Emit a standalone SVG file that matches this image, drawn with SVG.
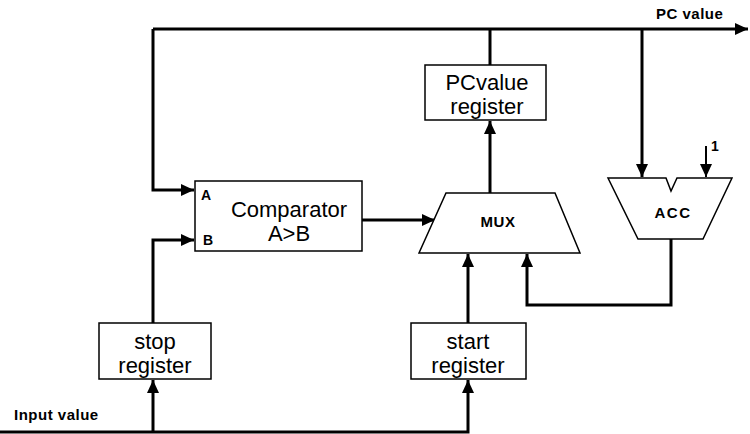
<svg xmlns="http://www.w3.org/2000/svg" width="750" height="434" viewBox="0 0 750 434">
<style>
.box{fill:#fff;stroke:#000;stroke-width:1.5}
.w{fill:none;stroke:#000;stroke-width:3}
.t{font-family:"Liberation Sans",Arial,sans-serif;fill:#000}
.big{font-size:22px;text-anchor:middle}
.sm{font-size:14px;font-weight:bold}
.lbl{font-size:15px;font-weight:bold;letter-spacing:0.5px}
</style>
<defs>
<marker id="ah" markerUnits="userSpaceOnUse" markerWidth="14" markerHeight="14" viewBox="0 0 14 14" refX="13" refY="7" orient="auto">
<path d="M0,1 L13,7 L0,13 Z" fill="#000"/>
</marker>
</defs>
<g id="connectors">
<path class="w" d="M153,29 H748" marker-end="url(#ah)"/>
<path class="w" d="M490,65 V29"/>
<path class="w" d="M153,29 V190 H194" marker-end="url(#ah)"/>
<path class="w" d="M642,29 V177" marker-end="url(#ah)"/>
<path class="w" d="M153,323 V240 H194" marker-end="url(#ah)"/>
<path class="w" d="M0,432 H468 V380" marker-end="url(#ah)"/>
<path class="w" d="M153,432 V380" marker-end="url(#ah)"/>
<path class="w" d="M468,323 V254" marker-end="url(#ah)"/>
<path class="w" d="M671,239 V305 H527 V254" marker-end="url(#ah)"/>
<path class="w" d="M362,220 H435" marker-end="url(#ah)"/>
<path class="w" d="M490,193 V121" marker-end="url(#ah)"/>
<path fill="none" stroke="#000" stroke-width="2" d="M706,146 V177" marker-end="url(#ah)"/>
</g>
<g id="pcvalue-register">
<rect class="box" x="425" y="65" width="121" height="55"/>
<text class="t big" x="487" y="90">PCvalue</text>
<text class="t big" x="487" y="114">register</text>
</g>
<g id="comparator">
<rect class="box" x="195" y="181" width="167" height="70"/>
<text class="t sm" x="201" y="200">A</text>
<text class="t sm" x="203" y="245">B</text>
<text class="t big" x="289" y="217">Comparator</text>
<text class="t big" x="289" y="241">A&gt;B</text>
</g>
<g id="mux">
<path class="box" d="M446,193 H555 L580,253 H419 Z"/>
<text class="t" x="498" y="227" font-size="15" font-weight="bold" letter-spacing="0.5" text-anchor="middle">MUX</text>
</g>
<g id="acc">
<path class="box" d="M608,178 H666 L671,191 L677,178 H732 L703,239 H638 Z"/>
<text class="t" x="673" y="218" font-size="15" font-weight="bold" letter-spacing="1.5" text-anchor="middle">ACC</text>
<text class="t sm" x="711" y="151">1</text>
</g>
<g id="stop-register">
<rect class="box" x="99" y="323" width="112" height="56"/>
<text class="t big" x="155" y="349">stop</text>
<text class="t big" x="155" y="373">register</text>
</g>
<g id="start-register">
<rect class="box" x="411" y="323" width="115" height="56"/>
<text class="t big" x="468" y="349">start</text>
<text class="t big" x="468" y="373">register</text>
</g>
<g id="labels">
<text class="t lbl" x="656" y="19">PC value</text>
<text class="t lbl" x="14" y="420">Input value</text>
</g>
</svg>
